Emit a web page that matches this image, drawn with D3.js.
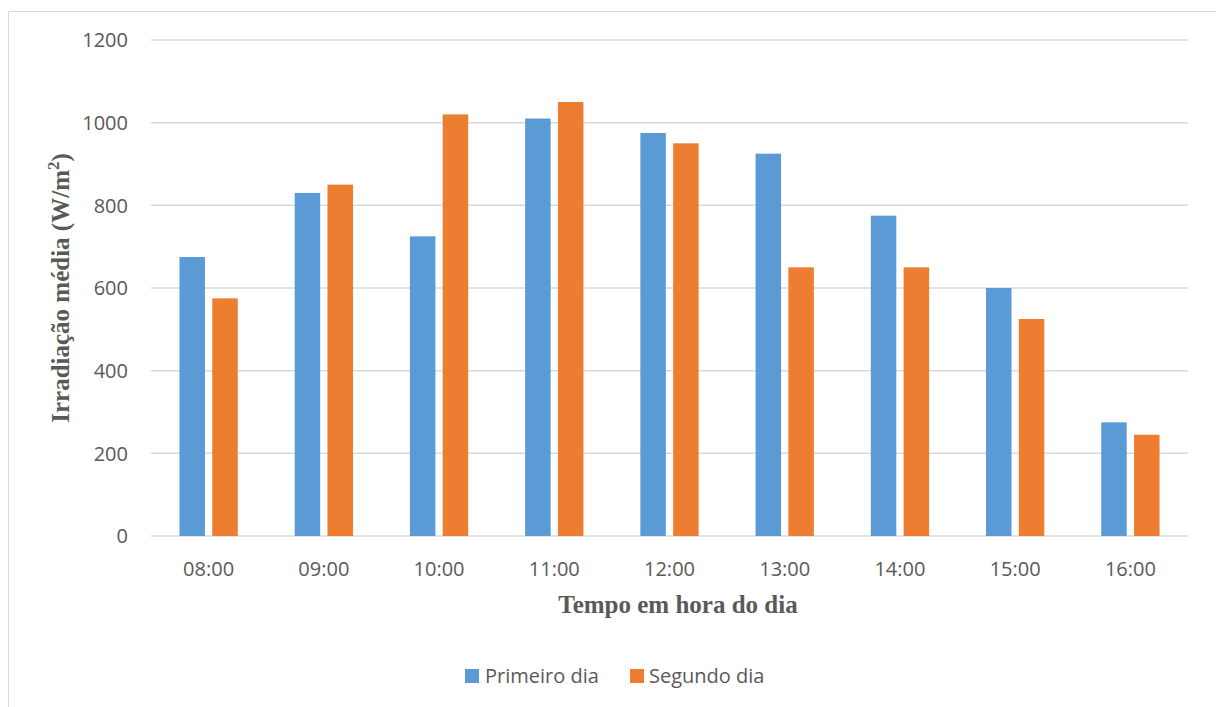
<!DOCTYPE html>
<html><head><meta charset="utf-8">
<script src="https://cdn.jsdelivr.net/npm/d3@7"></script>
<style>body{margin:0;background:#fff;}svg{display:block;}</style>
</head><body>
<svg id="c" width="1216" height="707"></svg>
<script>
const categories = ["08:00","09:00","10:00","11:00","12:00","13:00","14:00","15:00","16:00"];
const seriesNames = ["Primeiro dia","Segundo dia"];
const primeiroDia = [675, 830, 725, 1010, 975, 925, 775, 600, 275];
const segundoDia = [575, 850, 1020, 1050, 950, 650, 650, 525, 245];
const yTicks = [0, 200, 400, 600, 800, 1000, 1200];
const colors = ["#5B9BD5", "#ED7D31"];

(function () {
const svg = d3.select("#c");
// outer frame
svg.append("path").attr("d","M8.5,707 L8.5,11.5 L1216,11.5").attr("fill","none").attr("stroke","#D9D9D9").attr("stroke-width",1);

const pLeft = 151, pRight = 1188, pTop = 40, pBottom = 536;
const x = d3.scaleBand().domain(categories).range([pLeft, pRight]).paddingInner(0).paddingOuter(0);
const y = d3.scaleLinear().domain([0, 1200]).range([pBottom, pTop]);

const tickFont = "'Open Sans', 'Noto Sans', sans-serif";
const fs = 20;
svg.append("g").selectAll("line").data(yTicks).join("line")
  .attr("x1", pLeft).attr("x2", pRight)
  .attr("y1", d => y(d)).attr("y2", d => y(d))
  .attr("stroke", "#D9D9D9").attr("stroke-width", 1.5);

svg.append("g").selectAll("text").data(yTicks).join("text")
  .attr("x", 128).attr("y", d => y(d)).attr("dy", "0.36em")
  .attr("text-anchor", "end").attr("font-family", tickFont).attr("font-size", fs).attr("fill", "#595959")
  .text(d => d);

const bw = 25.5, gap = 7.3;
const data = [primeiroDia, segundoDia];
data.forEach((vals, si) => {
  svg.append("g").selectAll("rect").data(vals).join("rect")
    .attr("x", (d, i) => x(categories[i]) + x.bandwidth()/2 + (si === 0 ? -gap/2 - bw : gap/2))
    .attr("width", bw)
    .attr("y", d => y(d)).attr("height", d => y(0) - y(d))
    .attr("fill", colors[si]);
});

svg.append("g").selectAll("text").data(categories).join("text")
  .attr("x", d => x(d) + x.bandwidth()/2).attr("y", 576)
  .attr("text-anchor", "middle").attr("font-family", tickFont).attr("font-size", fs).attr("fill", "#595959")
  .text(d => d);

svg.append("text").attr("x", 678).attr("y", 613).attr("text-anchor", "middle")
  .attr("font-family", "'Liberation Serif', serif").attr("font-weight", "bold").attr("font-size", 25).attr("fill", "#595959")
  .text("Tempo em hora do dia");

const yt = svg.append("text").attr("transform", "translate(69,288) rotate(-90)").attr("text-anchor", "middle")
  .attr("font-family", "'Liberation Serif', serif").attr("font-weight", "bold").attr("font-size", 25).attr("fill", "#595959");
yt.append("tspan").text("Irradiação média (W/m");
yt.append("tspan").attr("font-size", 17).attr("dy", -10).text("2");
yt.append("tspan").attr("dy", 10).text(")");

// legend
const leg = [{x: 465, tx: 485}, {x: 630, tx: 649}];
seriesNames.forEach((n, i) => {
  svg.append("rect").attr("x", leg[i].x).attr("y", 669).attr("width", 14).attr("height", 14).attr("fill", colors[i]);
  svg.append("text").attr("x", leg[i].tx).attr("y", 683)
    .attr("font-family", tickFont).attr("font-size", fs).attr("fill", "#595959").text(n);
});
})();
</script>
</body></html>
